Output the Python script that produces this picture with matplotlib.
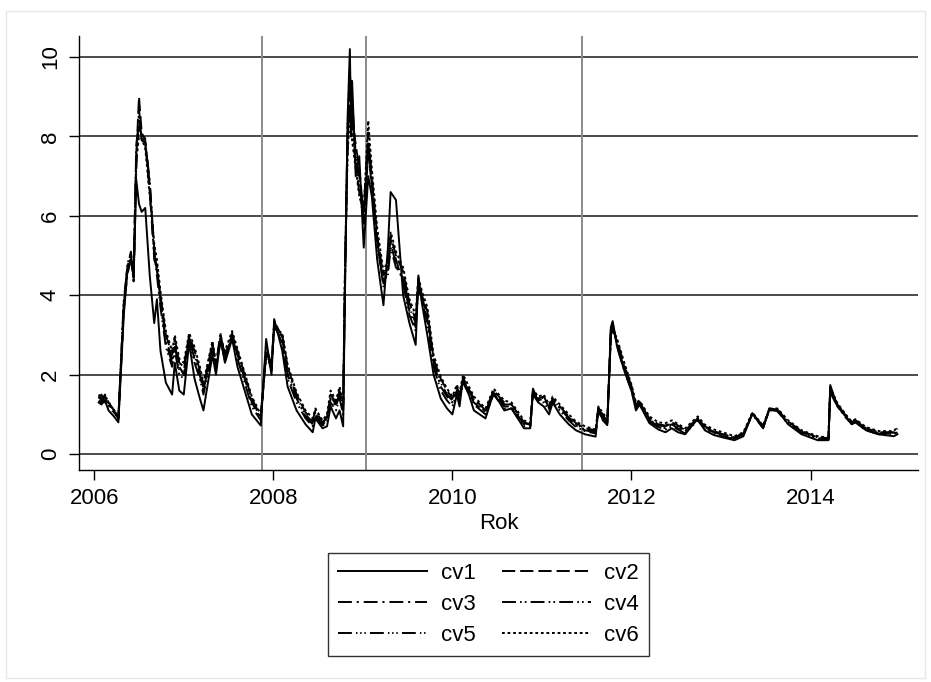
import numpy as np
import matplotlib
matplotlib.use("Agg")
import matplotlib.pyplot as plt
from matplotlib.patches import Rectangle

plt.rcParams.update({"font.family": ["Liberation Sans", "DejaVu Sans"], "font.size": 16,
                     "lines.scale_dashes": False})

# decimal year of each observation
rok = [2006.05, 2006.08, 2006.12, 2006.16, 2006.22, 2006.27, 2006.33, 2006.37, 2006.41, 2006.44,
       2006.47, 2006.50, 2006.53, 2006.57, 2006.62, 2006.67, 2006.70, 2006.74, 2006.80, 2006.87,
       2006.90, 2006.95, 2007.00, 2007.06, 2007.12, 2007.18, 2007.22, 2007.32, 2007.36, 2007.41,
       2007.46, 2007.54, 2007.60, 2007.68, 2007.76, 2007.86, 2007.92, 2007.98, 2008.01, 2008.10,
       2008.16, 2008.26, 2008.36, 2008.44, 2008.47, 2008.55, 2008.60, 2008.64, 2008.70, 2008.74,
       2008.78, 2008.80, 2008.83, 2008.855, 2008.87, 2008.88, 2008.92, 2008.96, 2009.01, 2009.06,
       2009.10, 2009.16, 2009.23, 2009.28, 2009.31, 2009.37, 2009.45, 2009.52, 2009.59, 2009.62,
       2009.66, 2009.72, 2009.79, 2009.87, 2009.94, 2010.00, 2010.05, 2010.08, 2010.12, 2010.24,
       2010.37, 2010.46, 2010.58, 2010.66, 2010.80, 2010.87, 2010.90, 2010.96, 2011.02, 2011.08,
       2011.12, 2011.20, 2011.30, 2011.38, 2011.48, 2011.60, 2011.63, 2011.68, 2011.73, 2011.77,
       2011.79, 2011.84, 2011.92, 2012.00, 2012.05, 2012.09, 2012.20, 2012.30, 2012.38, 2012.45,
       2012.52, 2012.60, 2012.74, 2012.82, 2012.92, 2013.02, 2013.15, 2013.25, 2013.35, 2013.47,
       2013.54, 2013.63, 2013.75, 2013.90, 2014.08, 2014.20, 2014.22, 2014.30, 2014.40, 2014.46,
       2014.50, 2014.62, 2014.76, 2014.93, 2014.97]

cv1 = [1.30, 1.25, 1.35, 1.10, 0.95, 0.80, 3.50, 4.60, 4.90, 4.50,
       6.90, 6.30, 6.10, 6.20, 4.50, 3.30, 3.90, 2.60, 1.80, 1.50,
       2.30, 1.60, 1.50, 2.80, 1.90, 1.40, 1.10, 2.50, 2.00, 2.90,
       2.30, 2.90, 2.20, 1.60, 1.00, 0.72, 2.90, 2.00, 3.40, 2.60,
       1.70, 1.10, 0.75, 0.55, 0.90, 0.65, 0.70, 1.20, 0.90, 1.10,
       0.70, 4.00, 8.50, 10.2, 8.00, 9.40, 7.00, 7.50, 5.20, 7.00,
       6.50, 4.90, 3.75, 5.20, 6.60, 6.40, 4.00, 3.30, 2.75, 4.50,
       3.80, 3.00, 2.00, 1.40, 1.15, 1.00, 1.50, 1.20, 1.95, 1.10,
       0.90, 1.55, 1.10, 1.15, 0.65, 0.65, 1.65, 1.30, 1.20, 1.00,
       1.30, 1.00, 0.75, 0.60, 0.50, 0.44, 1.20, 0.85, 0.73, 3.20,
       3.35, 2.70, 2.10, 1.60, 1.10, 1.25, 0.78, 0.62, 0.55, 0.65,
       0.55, 0.50, 0.90, 0.60, 0.48, 0.42, 0.35, 0.45, 1.03, 0.65,
       1.15, 1.10, 0.75, 0.50, 0.35, 0.35, 1.74, 1.20, 0.94, 0.75,
       0.80, 0.60, 0.50, 0.45, 0.50]

cv2 = [1.45, 1.35, 1.50, 1.30, 1.10, 0.90, 3.80, 4.70, 5.10, 4.40,
       7.50, 9.00, 8.10, 7.90, 6.80, 5.20, 4.60, 4.00, 3.00, 2.50,
       2.90, 2.30, 2.20, 3.00, 2.60, 2.10, 1.70, 2.80, 2.20, 3.00,
       2.50, 3.00, 2.60, 2.00, 1.40, 0.95, 2.50, 2.20, 3.20, 3.00,
       2.20, 1.50, 1.05, 0.85, 1.10, 0.80, 0.90, 1.50, 1.30, 1.60,
       1.20, 4.50, 8.00, 9.00, 9.20, 8.50, 7.80, 7.20, 6.00, 7.90,
       7.00, 5.50, 4.50, 4.70, 5.50, 5.00, 4.60, 3.80, 3.40, 4.40,
       4.00, 3.60, 2.40, 1.90, 1.60, 1.40, 1.70, 1.50, 1.90, 1.40,
       1.10, 1.60, 1.30, 1.25, 0.80, 0.75, 1.60, 1.40, 1.45, 1.20,
       1.40, 1.20, 0.95, 0.78, 0.65, 0.60, 1.15, 1.00, 0.80, 3.00,
       3.20, 2.80, 2.20, 1.70, 1.25, 1.30, 0.90, 0.75, 0.72, 0.80,
       0.72, 0.60, 0.90, 0.70, 0.58, 0.50, 0.42, 0.52, 1.00, 0.70,
       1.12, 1.12, 0.82, 0.58, 0.42, 0.40, 1.60, 1.25, 0.95, 0.80,
       0.85, 0.65, 0.55, 0.55, 0.62]

cv3 = [1.40, 1.50, 1.30, 1.25, 1.05, 0.92, 3.70, 4.50, 4.95, 4.60,
       7.80, 8.40, 8.00, 7.80, 6.60, 5.00, 4.80, 3.80, 2.80, 2.30,
       2.70, 2.20, 2.00, 2.90, 2.40, 2.00, 1.60, 2.70, 2.10, 2.95,
       2.40, 2.95, 2.50, 1.90, 1.30, 0.90, 2.60, 2.10, 3.30, 2.90,
       2.00, 1.40, 0.95, 0.75, 1.00, 0.75, 0.85, 1.40, 1.20, 1.50,
       1.10, 4.30, 8.20, 9.50, 8.50, 9.00, 7.50, 7.00, 5.80, 7.60,
       6.80, 5.30, 4.30, 4.60, 5.30, 4.80, 4.40, 3.60, 3.20, 4.30,
       3.90, 3.40, 2.30, 1.70, 1.45, 1.30, 1.60, 1.40, 1.85, 1.30,
       1.05, 1.55, 1.20, 1.20, 0.75, 0.72, 1.55, 1.35, 1.40, 1.15,
       1.35, 1.15, 0.90, 0.72, 0.60, 0.55, 1.10, 0.95, 0.78, 3.10,
       3.25, 2.75, 2.15, 1.65, 1.20, 1.28, 0.85, 0.70, 0.65, 0.75,
       0.65, 0.55, 0.88, 0.65, 0.55, 0.48, 0.40, 0.50, 1.02, 0.68,
       1.10, 1.10, 0.78, 0.55, 0.40, 0.38, 1.65, 1.22, 0.92, 0.78,
       0.82, 0.62, 0.52, 0.52, 0.60]

cv4 = [1.50, 1.40, 1.45, 1.20, 1.15, 0.88, 3.60, 4.80, 5.05, 4.35,
       7.20, 8.70, 7.90, 7.85, 6.90, 5.10, 4.50, 3.70, 2.70, 2.20,
       2.60, 2.00, 1.90, 2.85, 2.30, 1.90, 1.50, 2.60, 2.15, 2.85,
       2.35, 3.05, 2.40, 1.80, 1.20, 0.85, 2.55, 2.15, 3.25, 2.80,
       1.90, 1.30, 0.90, 0.70, 0.95, 0.72, 0.80, 1.30, 1.10, 1.40,
       1.00, 4.20, 8.30, 9.70, 8.80, 8.60, 7.60, 6.80, 6.20, 8.10,
       6.90, 5.40, 4.20, 4.80, 5.40, 4.90, 4.30, 3.50, 3.10, 4.20,
       3.85, 3.30, 2.20, 1.60, 1.35, 1.20, 1.55, 1.35, 1.80, 1.25,
       1.00, 1.50, 1.15, 1.15, 0.70, 0.70, 1.50, 1.30, 1.30, 1.10,
       1.30, 1.10, 0.85, 0.68, 0.58, 0.52, 1.05, 0.90, 0.75, 3.05,
       3.30, 2.70, 2.10, 1.60, 1.15, 1.25, 0.82, 0.68, 0.62, 0.70,
       0.62, 0.52, 0.85, 0.62, 0.52, 0.45, 0.38, 0.48, 1.00, 0.66,
       1.12, 1.08, 0.76, 0.52, 0.38, 0.36, 1.55, 1.20, 0.90, 0.76,
       0.80, 0.60, 0.50, 0.50, 0.55]

cv5 = [1.35, 1.30, 1.45, 1.35, 1.00, 0.95, 3.90, 4.65, 4.85, 4.50,
       7.60, 8.20, 8.05, 7.95, 6.70, 4.90, 4.70, 3.90, 2.90, 2.40,
       2.80, 2.10, 2.10, 2.95, 2.50, 2.00, 1.65, 2.75, 2.25, 3.05,
       2.45, 2.90, 2.55, 1.95, 1.35, 0.92, 2.70, 2.25, 3.35, 2.95,
       2.10, 1.45, 1.00, 0.80, 1.05, 0.78, 0.95, 1.45, 1.25, 1.55,
       1.15, 4.40, 7.80, 8.80, 8.70, 8.20, 7.30, 6.60, 5.90, 7.70,
       6.70, 5.20, 4.40, 4.50, 5.20, 4.70, 4.50, 3.70, 3.30, 4.35,
       3.95, 3.50, 2.35, 1.80, 1.50, 1.35, 1.65, 1.45, 1.90, 1.35,
       1.05, 1.60, 1.25, 1.25, 0.78, 0.74, 1.58, 1.38, 1.42, 1.18,
       1.38, 1.18, 0.92, 0.75, 0.62, 0.58, 1.12, 0.98, 0.80, 3.15,
       3.20, 2.85, 2.25, 1.70, 1.25, 1.32, 0.88, 0.72, 0.70, 0.78,
       0.70, 0.58, 0.92, 0.68, 0.56, 0.50, 0.42, 0.52, 1.03, 0.70,
       1.15, 1.12, 0.80, 0.56, 0.42, 0.40, 1.62, 1.25, 0.96, 0.80,
       0.86, 0.64, 0.54, 0.54, 0.65]

cv6 = [1.42, 1.48, 1.35, 1.28, 1.12, 0.90, 3.75, 4.55, 5.00, 4.45,
       7.40, 8.00, 7.95, 7.70, 6.50, 5.30, 4.90, 4.10, 3.10, 2.60,
       3.00, 2.40, 2.30, 3.05, 2.70, 2.20, 1.80, 2.85, 2.30, 2.90,
       2.60, 3.10, 2.65, 2.05, 1.45, 1.00, 2.45, 2.30, 3.15, 3.05,
       2.25, 1.55, 1.10, 0.90, 1.15, 0.85, 1.00, 1.60, 1.35, 1.70,
       1.25, 4.60, 7.60, 8.50, 8.40, 7.90, 7.20, 6.50, 6.10, 8.40,
       7.20, 5.70, 4.60, 4.90, 5.60, 5.10, 4.70, 3.90, 3.50, 4.45,
       4.10, 3.70, 2.50, 1.95, 1.65, 1.45, 1.75, 1.55, 2.00, 1.45,
       1.15, 1.65, 1.35, 1.30, 0.85, 0.78, 1.62, 1.45, 1.50, 1.25,
       1.45, 1.25, 1.00, 0.82, 0.70, 0.62, 1.18, 1.05, 0.85, 2.95,
       3.15, 2.90, 2.30, 1.75, 1.30, 1.35, 0.95, 0.80, 0.78, 0.85,
       0.76, 0.65, 0.95, 0.74, 0.62, 0.55, 0.45, 0.55, 1.05, 0.72,
       1.14, 1.15, 0.85, 0.60, 0.45, 0.42, 1.68, 1.28, 0.98, 0.82,
       0.88, 0.68, 0.58, 0.58, 0.68]

names = ["cv1", "cv2", "cv3", "cv4", "cv5", "cv6"]
styles = ["-", (0, (9.5, 3.6)), (0, (10, 3.5, 1.5, 3.5)), (0, (10, 3, 1.2, 2.2, 1.2, 3)),
          (0, (10, 3, 1, 2, 1, 2, 1, 3)), (0, (2, 2))]
breaks = [2007.87, 2009.03, 2011.45]
yticks = [0, 2, 4, 6, 8, 10]
xticks = [2006, 2008, 2010, 2012, 2014]

fig = plt.figure(figsize=(9.31, 6.82), dpi=100)
fig.patches.append(Rectangle((6/931, 4/682), 919/931, 667/682, transform=fig.transFigure,
                             fill=False, edgecolor="#e3e8ea", lw=1))
ax = fig.add_axes([79/931, 1-470/682, 839/931, 434/682])

for yv in yticks:
    ax.axhline(yv, color="#1a1a1a", lw=1.1, zorder=1)
for b in breaks:
    ax.axvline(b, color="#8a8a8a", lw=1.4, zorder=1)
handles = []
for nm, ls, s in zip(names, styles, [cv1, cv2, cv3, cv4, cv5, cv6]):
    h, = ax.plot(rok, s, color="black", ls=ls, lw=1.4, label=nm, zorder=3)
    handles.append(h)

ax.set_xlim(2005.83, 2015.2)
ax.set_ylim(-0.4, 10.53)
ax.set_yticks(yticks)
ax.set_yticklabels([str(v) for v in yticks], rotation=90, va="center")
ax.set_xticks(xticks)
ax.set_xticklabels([str(v) for v in xticks])
ax.tick_params(direction="out", length=7, width=1, color="black", labelsize=16, pad=6)
ax.set_xlabel("Rok", fontsize=16, labelpad=3)
for sp in ["top", "right"]:
    ax.spines[sp].set_visible(False)
for sp in ["left", "bottom"]:
    ax.spines[sp].set_color("black")
    ax.spines[sp].set_linewidth(1)

# legend filled row by row: cv1 cv2 / cv3 cv4 / cv5 cv6
order = [0, 2, 4, 1, 3, 5]
leg = fig.legend([handles[i] for i in order], [names[i] for i in order],
                 loc="center", bbox_to_anchor=(0.525, 0.114), ncol=2, fontsize=16,
                 handlelength=4, handletextpad=0.6, columnspacing=1.2, labelspacing=0.45,
                 fancybox=False, edgecolor="#333333", framealpha=1, borderpad=0.45)
leg.get_frame().set_linewidth(1)

fig.savefig("out.png", dpi=100)
